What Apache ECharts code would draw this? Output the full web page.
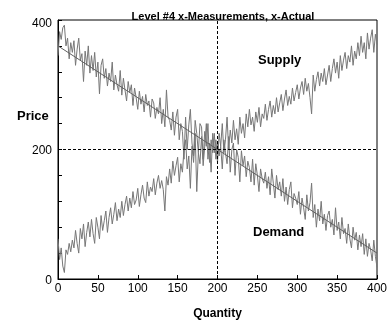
<!DOCTYPE html>
<html><head><meta charset="utf-8">
<script src="https://cdn.jsdelivr.net/npm/echarts@6/dist/echarts.min.js"></script>
<style>html,body{margin:0;padding:0;background:#fff}#c{width:390px;height:320px}</style>
</head><body><div id="c"></div>
<script>
const xStep = 2;
const demand = [
345,382,370,388,392,360,372,340,365,350,
368,330,355,372,338,348,305,352,330,360,
318,345,322,350,312,335,286,330,340,310,
325,298,318,305,335,292,315,300,290,322,
284,310,292,275,305,288,300,268,295,280,
262,290,270,282,258,285,268,275,250,278,
272,248,265,255,280,240,262,235,292,250,
245,230,258,222,250,262,215,240,228,185,
250,200,238,262,210,190,245,225,195,240,
235,185,228,205,240,180,215,195,225,185,
210,190,205,170,215,195,178,220,165,200,
210,160,200,188,150,198,175,190,158,182,
172,150,185,145,178,160,135,170,155,148,
165,140,158,130,170,148,125,160,138,150,
128,155,120,142,115,138,150,110,132,125,
115,135,100,125,110,92,130,105,118,148,
95,115,80,108,90,120,85,100,75,98,
105,80,92,68,110,75,88,62,95,70,
78,55,85,62,48,80,60,72,45,68,
50,70,38,62,35,55,45,28,60,35,
18];
const supply = [
62,30,48,20,10,45,38,55,42,60,
48,75,55,40,78,62,85,50,72,88,
65,92,70,55,95,80,62,98,75,90,
105,72,95,110,85,100,118,90,108,95,
120,98,115,128,105,125,110,135,115,122,
140,112,130,145,125,118,150,128,142,135,
155,130,148,160,140,152,138,105,158,145,
170,148,182,160,175,188,150,178,165,200,
215,170,190,140,205,180,225,135,195,178,
220,175,205,240,185,210,165,225,195,215,
180,225,205,240,195,215,250,200,230,210,
245,215,232,208,250,225,240,218,255,235,
262,238,250,228,258,242,265,235,255,248,
270,245,262,275,250,268,255,280,258,272,
285,260,278,292,268,282,270,295,275,288,
300,278,295,305,285,310,290,302,280,255,
315,290,308,320,298,318,305,325,300,315,
330,305,325,340,318,335,310,345,322,338,
350,325,345,335,360,330,352,340,365,345,
375,350,365,340,380,355,372,385,350,378,
362];
const demandTrend = [[0,360],[400,40]];
const xTicks = [0,50,100,150,200,250,300,350,400];
const yLabels = [0,200,400];
const equilibrium = {x:200, y:200};
const titleText = 'Level #4 x-Measurements, x-Actual';

const dPts = demand.map((v,i)=>[i*xStep, v]);
const sPts = supply.map((v,i)=>[i*xStep, v]);
const chart = echarts.init(document.getElementById('c'), null, {renderer:'canvas'});
const F = 'Liberation Sans, Arial, sans-serif';
chart.setOption({
  animation:false,
  backgroundColor:'#fff',
  title:{text:titleText, left:218, top:6, textAlign:'center',
    textStyle:{fontFamily:F, fontSize:11, fontWeight:'bold', color:'#000'}},
  grid:{left:58, right:13, top:20, bottom:41, show:true, borderColor:'#000', borderWidth:1,
    containLabel:false, outerBoundsMode:'none'},
  xAxis:{type:'value', min:0, max:400, interval:50,
    name:'Quantity', nameLocation:'middle', nameGap:29,
    nameTextStyle:{fontFamily:F, fontSize:12, fontWeight:'bold', color:'#000'},
    axisLine:{show:true, lineStyle:{color:'#000'}},
    axisTick:{inside:true, length:4, lineStyle:{color:'#000'}},
    axisLabel:{fontFamily:F, fontSize:12, color:'#000', margin:4},
    splitLine:{show:false}},
  yAxis:{type:'value', min:0, max:400, interval:40,
    axisLine:{show:true, lineStyle:{color:'#000'}},
    axisTick:{inside:true, length:4, lineStyle:{color:'#000'}},
    axisLabel:{fontFamily:F, fontSize:12, color:'#000', margin:6,
      formatter:v=> !yLabels.includes(v) ? '' : (v===400 ? '{t|'+v+'}' : '{n|'+v+'}'),
      rich:{t:{fontFamily:F, fontSize:12, color:'#000', padding:[8,0,0,0]},
            n:{fontFamily:F, fontSize:12, color:'#000', padding:[3,0,0,0]}}},
    splitLine:{show:false}},
  graphic:[
    {type:'text', left:17, top:110, style:{text:'Price', font:'bold 13px '+F, fill:'#000'}},
    {type:'text', left:258, top:54, style:{text:'Supply', font:'bold 13px '+F, fill:'#000'}},
    {type:'text', left:253, top:226, style:{text:'Demand', font:'bold 13px '+F, fill:'#000'}}
  ],
  series:[
    {type:'line', data:sPts, showSymbol:false, symbol:'none',
      lineStyle:{color:'#777', width:1}, z:3},
    {type:'line', data:dPts, showSymbol:false, symbol:'none',
      lineStyle:{color:'#777', width:1}, z:3},
    {type:'line', data:demandTrend, showSymbol:false, symbol:'none',
      lineStyle:{color:'#606060', width:1}, z:4,
      markLine:{silent:true, symbol:'none', label:{show:false},
        lineStyle:{color:'#000', type:[3,2], width:1},
        data:[{xAxis:equilibrium.x},{yAxis:equilibrium.y}]}}
  ]
});
</script></body></html>
